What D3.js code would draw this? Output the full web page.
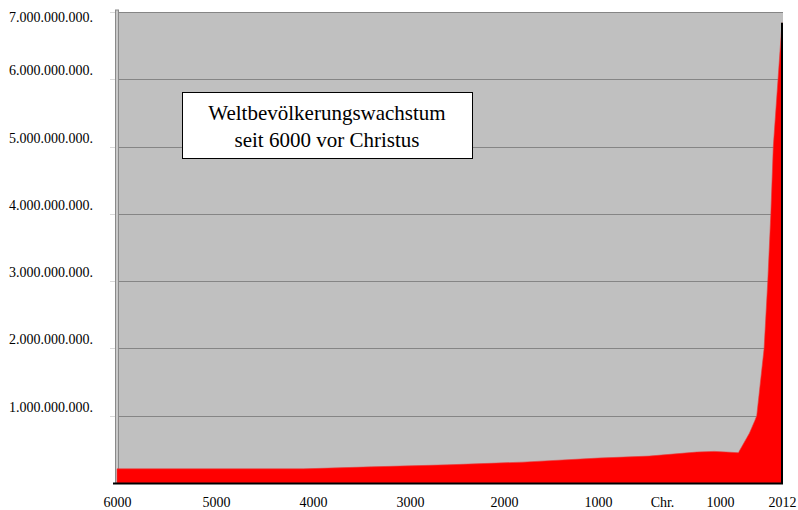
<!DOCTYPE html>
<html>
<head>
<meta charset="utf-8">
<script src="https://cdn.jsdelivr.net/npm/d3@7"></script>
<style>
  body { margin: 0; background: #fff; }
  text { font-family: "Liberation Serif", "Times New Roman", serif; fill: #000; }
</style>
</head>
<body>
<div id="chart"></div>
<script>
// population curve (year, people)
var years = [-6000, -4100, -3400, -2600, -1800, -1000, -200, 600, 900, 1100, 1300, 1480, 1570, 1600, 1720, 1780, 1830, 1870, 2012];
var population = [0.21e9, 0.21e9, 0.24e9, 0.27e9, 0.31e9, 0.37e9, 0.40e9, 0.46e9, 0.47e9, 0.46e9, 0.45e9, 0.74e9, 0.93e9, 1.0e9, 2.0e9, 3.0e9, 4.0e9, 5.0e9, 6.84e9];

var tickYears = [-6000, -5000, -4000, -3000, -2000, -1000, 0, 1000, 2012];
var tickLabels = ["6000", "5000", "4000", "3000", "2000", "1000", "Chr.", "1000", "2012"];
var yTicks = [1e9, 2e9, 3e9, 4e9, 5e9, 6e9, 7e9];
var titleLines = ["Weltbevölkerungswachstum", "seit 6000 vor Christus"];

var W = 798, H = 510;
// note: "top" is taken by window.top, so use other names
var plotL = 117, plotR = 782, plotT = 12, plotB = 483;

var svg = d3.select('#chart').append('svg')
  .attr('width', W)
  .attr('height', H);

// the time axis is not even: the last two thousand years are squeezed
var x = d3.scaleLinear()
  .domain(tickYears)
  .range([117, 216, 313, 410, 504, 598, 662, 720, 782]);

var y = d3.scaleLinear()
  .domain([0, 7e9])
  .range([plotB, plotT]);

// plot background
svg.append('rect')
  .attr('x', plotL).attr('y', plotT)
  .attr('width', plotR - plotL + 1).attr('height', plotB - plotT)
  .attr('fill', '#c0c0c0');

// grid lines
svg.selectAll('line.grid').data(yTicks)
  .enter().append('line')
  .attr('class', 'grid')
  .attr('x1', plotL)
  .attr('x2', plotR + 1)
  .attr('y1', function (d) { return Math.round(y(d)) + 0.5; })
  .attr('y2', function (d) { return Math.round(y(d)) + 0.5; })
  .attr('stroke', '#858585')
  .attr('stroke-width', 1);

// small tick stubs left of the wall
svg.selectAll('line.stub').data(yTicks)
  .enter().append('line')
  .attr('class', 'stub')
  .attr('x1', 110)
  .attr('x2', 116)
  .attr('y1', function (d) { return Math.round(y(d)) + 0.5; })
  .attr('y2', function (d) { return Math.round(y(d)) + 0.5; })
  .attr('stroke', '#d8d8d8')
  .attr('stroke-width', 1);

// left wall
svg.append('rect')
  .attr('x', 115.5).attr('y', plotT - 2)
  .attr('width', 3).attr('height', plotB - plotT + 2)
  .attr('fill', '#c8c8c8')
  .attr('stroke', '#8a8a8a')
  .attr('stroke-width', 1);

// area
var area = d3.area()
  .x(function (d) { return x(d[0]); })
  .y0(y(0))
  .y1(function (d) { return y(d[1]); });

var pts = years.map(function (yr, i) { return [yr, population[i]]; });

svg.append('path')
  .datum(pts)
  .attr('d', area)
  .attr('fill', '#ff0000')
  .attr('stroke', '#e83a3a')
  .attr('stroke-width', 0.6);

// black edge at the end of the series
var last = pts[pts.length - 1];
svg.append('line')
  .attr('x1', x(last[0])).attr('x2', x(last[0]))
  .attr('y1', y(last[1])).attr('y2', y(0))
  .attr('stroke', '#000')
  .attr('stroke-width', 2);

// baseline
svg.append('line')
  .attr('x1', 113).attr('x2', plotR + 1)
  .attr('y1', plotB + 0.5).attr('y2', plotB + 0.5)
  .attr('stroke', '#000')
  .attr('stroke-width', 2);

// y axis labels
var fmt = d3.formatLocale({ decimal: ',', thousands: '.', grouping: [3], currency: ['', ''] }).format(',');
var yAxis = d3.axisLeft(y)
  .tickValues(yTicks)
  .tickSize(0)
  .tickPadding(24)
  .tickFormat(function (d) { return fmt(d) + '.'; });

var gy = svg.append('g')
  .attr('transform', 'translate(' + plotL + ',0)')
  .call(yAxis);
gy.select('.domain').remove();
gy.selectAll('text')
  .attr('font-size', 14)
  .attr('font-family', '"Liberation Serif", serif')
  .attr('dy', function (d) { return d === 7e9 ? '0.7em' : '-0.32em'; });

// x axis labels
var xAxis = d3.axisBottom(x)
  .tickValues(tickYears)
  .tickSize(0)
  .tickPadding(14)
  .tickFormat(function (d, i) { return tickLabels[i]; });

var gx = svg.append('g')
  .attr('transform', 'translate(0,' + plotB + ')')
  .call(xAxis);
gx.select('.domain').remove();
gx.selectAll('text')
  .attr('font-size', 14)
  .attr('font-family', '"Liberation Serif", serif');

// title box
svg.append('rect')
  .attr('x', 182.5).attr('y', 92.5)
  .attr('width', 290).attr('height', 66)
  .attr('fill', '#fff')
  .attr('stroke', '#000')
  .attr('stroke-width', 1);

svg.selectAll('text.title').data(titleLines)
  .enter().append('text')
  .attr('class', 'title')
  .attr('x', 327)
  .attr('y', function (d, i) { return 120 + i * 27; })
  .attr('text-anchor', 'middle')
  .attr('font-size', 21)
  .text(function (d) { return d; });
</script>
</body>
</html>
